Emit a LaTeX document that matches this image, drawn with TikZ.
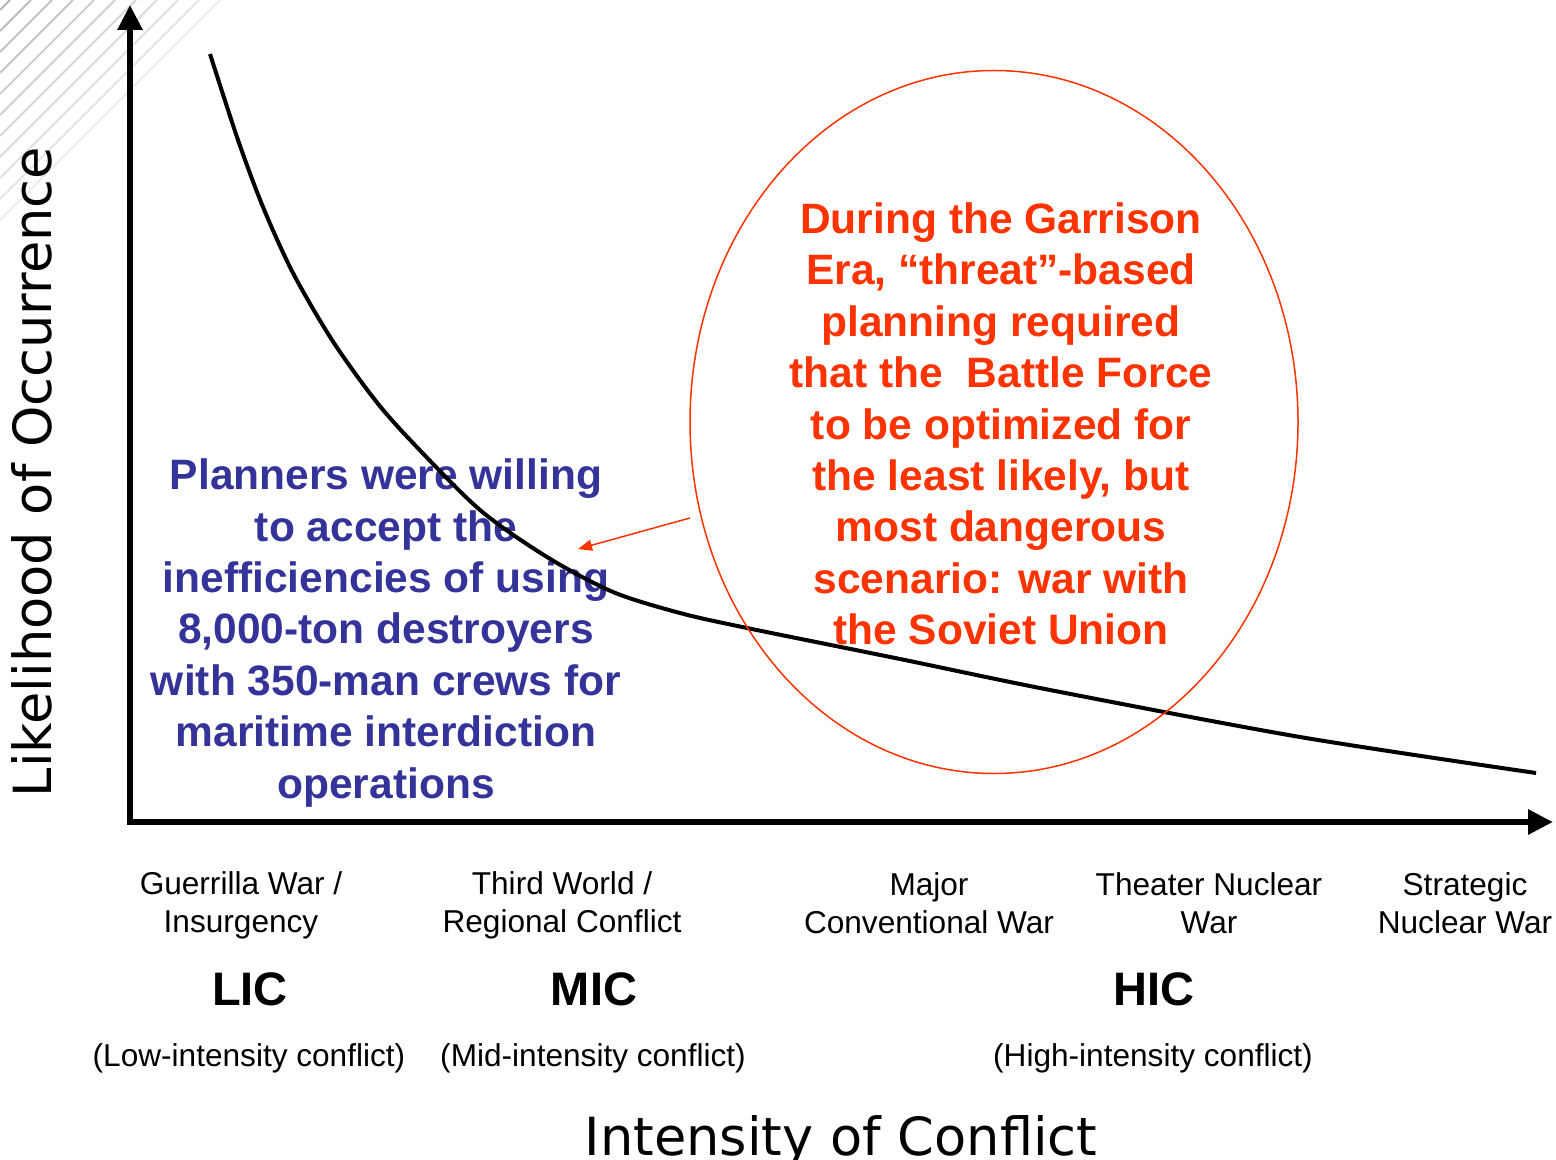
\documentclass[tikz,border=0pt]{standalone}
\usepackage{fontspec}
\setmainfont{Liberation Sans}
\newfontfamily\axisfont{DejaVu Sans}
\usetikzlibrary{arrows.meta,shapes.geometric}
\definecolor{planblue}{RGB}{51,51,153}
\definecolor{garnred}{RGB}{255,51,0}
\tikzset{
  hatchline/.style={line width=1pt},
  axisline/.style={line width=3pt,
    {Triangle[length=12.5pt,width=12pt]}-{Triangle[length=12.5pt,width=12pt]}},
  curveline/.style={line width=2pt, line join=round},
  scopering/.style={draw=garnred, line width=0.75pt},
  pointer/.style={draw=garnred, line width=0.75pt, -{Triangle[length=7pt,width=5.5pt]}},
  axistitle/.style={font=\axisfont\fontsize{26.3}{30}\selectfont, inner sep=0pt},
  bluetext/.style={text=planblue, align=center, inner sep=0pt,
    font=\bfseries\fontsize{21.25}{25.7}\selectfont},
  redtext/.style={text=garnred, align=center, inner sep=0pt,
    font=\bfseries\fontsize{21.25}{25.7}\selectfont},
  category/.style={align=center, inner sep=0pt, font=\fontsize{15.8}{19}\selectfont},
  levelname/.style={inner sep=0pt, font=\bfseries\fontsize{23.5}{28}\selectfont},
  levelnote/.style={inner sep=0pt, font=\fontsize{15.8}{19}\selectfont},
}
\begin{document}
\begin{tikzpicture}[x=0.5pt,y=-0.5pt]
\useasboundingbox (0,0) rectangle (1556,1160);

% faint diagonal hatching in the upper left corner
\foreach \c [evaluate=\c as \shade using {int(30-\c/10)}] in {10,31,...,220}
  \draw[hatchline, color=black!\shade] (\c,0) -- (0,\c);

% explanatory texts
\node[bluetext] (planners) at (386,633)
  {Planners were willing\\to accept the\\inefficiencies of using\\8,000-ton destroyers\\with 350-man crews for\\maritime interdiction\\operations};
\node[redtext] (garrison) at (1001,424)
  {During the Garrison\\Era, “threat”-based\\planning required\\that the~ Battle Force\\to be optimized for\\the least likely, but\\most dangerous\\scenario: war with\\the Soviet Union};

% axes
\coordinate (origin) at (130,822);
\coordinate (ytip) at (130,5);
\coordinate (xtip) at (1553,822);
\draw[axisline] (ytip) -- (origin) -- (xtip);

% likelihood curve
\draw[curveline] plot[smooth, tension=0.5] coordinates {
  (210,54) (238,140) (263,207) (293,273) (332,340) (375,400) (413,443)
  (480,510) (547,557) (613,592) (680,613) (747,628) (900,659) (1050,690)
  (1300,737) (1536,773)};

% circle of the most dangerous scenario and its pointer
\node[scopering, ellipse, minimum width=304pt, minimum height=351.5pt, inner sep=0pt]
  (ring) at (994,422) {};
\coordinate (pointstart) at (690,518);
\coordinate (pointend) at (578,549);
\draw[pointer] (pointstart) -- (pointend);

% axis titles
\node[axistitle, rotate=90] (ylabel) at (32,472) {Likelihood of Occurrence};
\node[axistitle] (xlabel) at (841,1141) {Intensity of Conflict};

% conflict categories
\node[category] (guerrilla) at (241,905) {Guerrilla War /\\Insurgency};
\node[category] (thirdworld) at (562,905) {Third World /\\Regional Conflict};
\node[category] (major) at (929,903) {Major\\Conventional War};
\node[category] (theater) at (1209,903) {Theater Nuclear\\War};
\node[category] (strategic) at (1465,903) {Strategic\\Nuclear War};

% intensity levels
\node[levelname] (lic) at (250,989) {LIC};
\node[levelname] (mic) at (594,989) {MIC};
\node[levelname] (hic) at (1154,989) {HIC};
\node[levelnote] (licnote) at (249,1058) {(Low-intensity conflict)};
\node[levelnote] (micnote) at (593,1058) {(Mid-intensity conflict)};
\node[levelnote] (hicnote) at (1153,1058) {(High-intensity conflict)};
\end{tikzpicture}
\end{document}
